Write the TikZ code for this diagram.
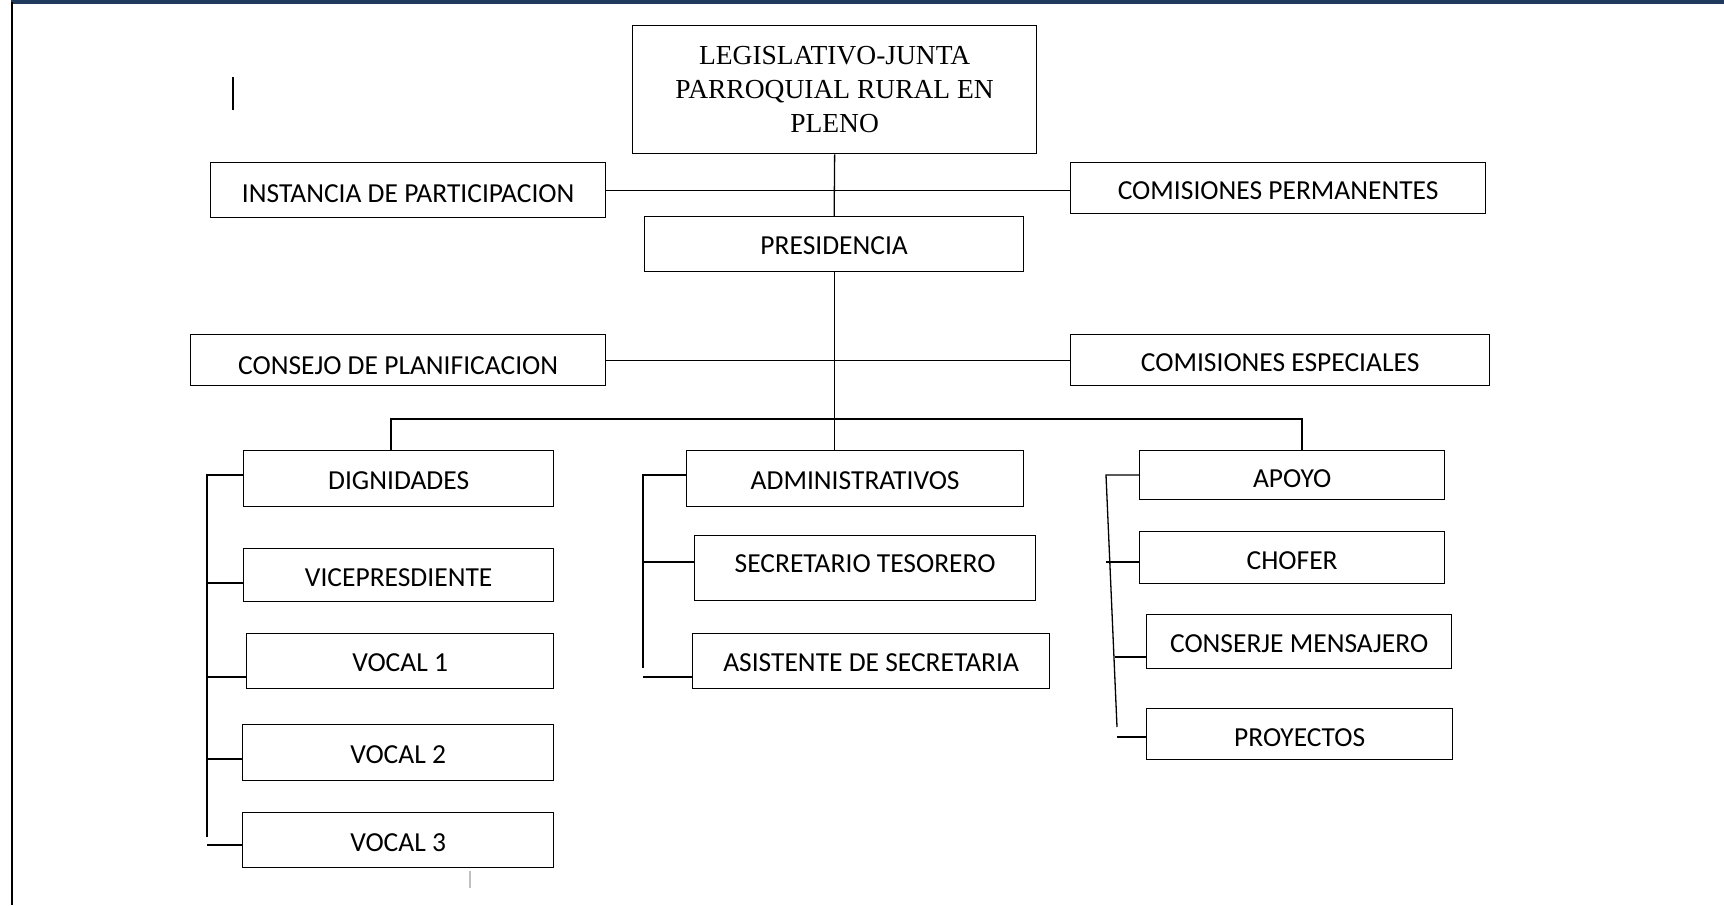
\documentclass[tikz,border=0pt]{standalone}
\usepackage{fontspec}
\setmainfont{Carlito}
\newfontfamily\serifa{Liberation Serif}
\usetikzlibrary{positioning}
\definecolor{marino}{HTML}{1F3A5C}

\begin{document}
\begin{tikzpicture}[x=1pt,y=-1pt]

\tikzset{caja/.style={draw,rectangle,line width=1.3pt,anchor=north west,inner sep=0pt,align=center,text height=21pt,text depth=0pt,font=\fontsize{27.5}{32}\selectfont}}
\tikzset{linea/.style={line width=1.3pt}}

\useasboundingbox (0,0) rectangle (1724,905);
\fill[marino] (11,0) rectangle (1724,3.5);
\fill[black] (10.5,2) rectangle (12.5,905);

\node[caja,text height=,text depth=,font=\serifa\fontsize{27.5}{34}\selectfont] at (632,25) [name=leg, minimum width=404pt, minimum height=128pt] {LEGISLATIVO-JUNTA\\PARROQUIAL RURAL EN\\PLENO};
\node[caja,text height=24pt] at (210,162) [name=inst, minimum width=395pt, minimum height=55pt] {INSTANCIA DE PARTICIPACION};
\node[caja,text height=23pt] at (1070,162) [name=comp, minimum width=415pt, minimum height=51pt] {COMISIONES PERMANENTES};
\node[caja] at (644,216) [name=pres, minimum width=379pt, minimum height=55pt] {PRESIDENCIA};
\node[caja,text height=28pt] at (190,334) [name=cons, minimum width=415pt, minimum height=51pt] {CONSEJO DE PLANIFICACION};
\node[caja,text height=23pt] at (1070,334) [name=come, minimum width=419pt, minimum height=51pt] {COMISIONES ESPECIALES};

%===================================================================
\node[caja] at (243,450) [name=dig, minimum width=310pt, minimum height=56pt] {DIGNIDADES};
\node[caja,text height=22pt] at (243,548) [name=vice, minimum width=310pt, minimum height=53pt] {VICEPRESDIENTE};
\node[caja] at (246,633) [name=voc1, minimum width=307pt, minimum height=55pt] {VOCAL 1};
\node[caja] at (242,724) [name=voc2, minimum width=311pt, minimum height=56pt] {VOCAL 2};
\node[caja,text height=23pt] at (242,812) [name=voc3, minimum width=311pt, minimum height=55pt] {VOCAL 3};

\node[caja] at (686,450) [name=adm, minimum width=337pt, minimum height=56pt] {ADMINISTRATIVOS};
\node[caja,text depth=12pt] at (694,535) [name=sec, minimum width=341pt, minimum height=65pt] {SECRETARIO TESORERO};
\node[caja] at (692,633) [name=asis, minimum width=357pt, minimum height=55pt] {ASISTENTE DE SECRETARIA};

\node[caja,text height=24pt] at (1139,450) [name=apo, minimum width=305pt, minimum height=49pt] {APOYO};
\node[caja,text height=23pt] at (1139,531) [name=cho, minimum width=305pt, minimum height=52pt] {CHOFER};
\node[caja] at (1146,614) [name=conm, minimum width=305pt, minimum height=54pt] {CONSERJE MENSAJERO};
\node[caja,text height=24pt] at (1146,708) [name=proy, minimum width=306pt, minimum height=51pt] {PROYECTOS};

%===================================================================
\draw[linea] (leg.south) -- (pres.north);
\draw[linea] (inst.east) -- (comp.west |- inst.east);
\draw[linea] (cons.east) -- (come.west);
\draw[linea] (pres.south) -- (pres.south |- adm.north);

\coordinate (busl) at (391,419);
\coordinate (busr) at (1302,419);
\draw[linea] (busl |- dig.north) -- (busl) -- (busr) -- (busr |- apo.north);

\coordinate (d1) at (207,475);
\coordinate (d2) at (207,583);
\coordinate (d3) at (207,677);
\coordinate (d4) at (207,759);
\coordinate (d5) at (207,845);
\draw[linea] (dig.west |- d1) -- (d1) -- (207,837);
\draw[linea] (d2) -- (vice.west |- d2);
\draw[linea] (d3) -- (voc1.west |- d3);
\draw[linea] (d4) -- (voc2.west |- d4);
\draw[linea] (d5) -- (voc3.west |- d5);

\coordinate (a1) at (643,475);
\coordinate (a2) at (643,562);
\coordinate (a3) at (643,677);
\draw[linea] (adm.west |- a1) -- (a1) -- (643,668);
\draw[linea] (a2) -- (sec.west |- a2);
\draw[linea] (a3) -- (asis.west |- a3);

\coordinate (p1) at (1106,475);
\coordinate (p2) at (1106,562);
\coordinate (p3) at (1115,657);
\coordinate (p4) at (1117,737);
\draw[linea] (apo.west |- p1) -- (p1) -- (1117,727);
\draw[linea] (p2) -- (cho.west |- p2);
\draw[linea] (p3) -- (conm.west |- p3);
\draw[linea] (p4) -- (proy.west |- p4);

\draw[line width=1.5pt] (233,77) -- (233,110);
\draw[gray!50,line width=2pt] (470,871) -- (470,888);
\end{tikzpicture}
\end{document}
